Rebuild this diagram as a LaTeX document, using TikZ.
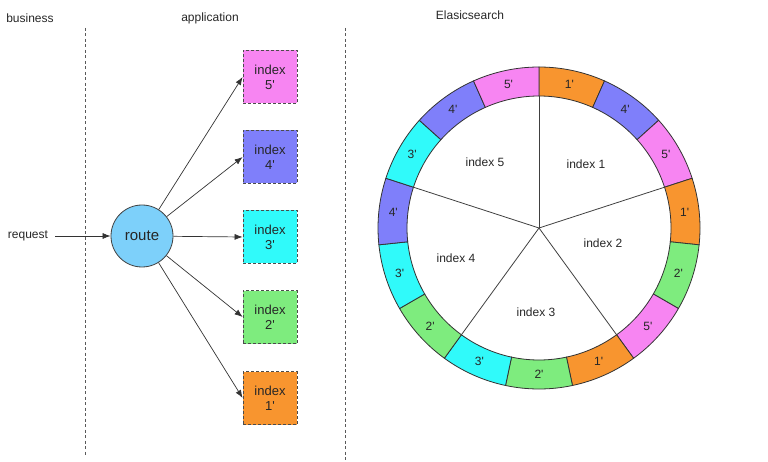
\documentclass[tikz,border=0pt]{standalone}
\usepackage{fontspec}
\setmainfont{Liberation Sans}[Ligatures=TeXOff]
\usetikzlibrary{arrows.meta,calc}
\definecolor{cpk}{HTML}{F785F2}
\definecolor{cbl}{HTML}{7F7FFA}
\definecolor{ccy}{HTML}{30FAFA}
\definecolor{cgr}{HTML}{7EEC7E}
\definecolor{cor}{HTML}{F8952F}
\definecolor{croute}{HTML}{7DD0FA}
\begin{document}
\begin{tikzpicture}[x=1pt,y=1pt,
  font=\fontsize{12}{14}\selectfont,
  title/.style={inner sep=0pt, text=black!85},
  idx/.style={draw=black!70, dashed, dash pattern=on 3pt off 2pt, line width=0.8pt,
    minimum width=54pt, minimum height=53pt, inner sep=0pt, align=center,
    font=\fontsize{13}{15}\selectfont, text=black!85},
  arr/.style={draw=black!80, line width=0.7pt, -{Latex[length=8pt,width=6pt]}},
  sep/.style={draw=black!65, dash pattern=on 3pt off 2.5pt, line width=1pt},
  seg/.style={draw=black!80, line width=0.8pt},
  spoke/.style={draw=black!75, line width=0.8pt},
  rlab/.style={inner sep=0pt, text=black!85},
  plab/.style={inner sep=0pt, text=black!85}]
\useasboundingbox (0,0) rectangle (768,-462);

% separators
\coordinate (s1t) at (85,-28);
\coordinate (s1b) at (85,-455);
\coordinate (s2t) at (345,-28);
\coordinate (s2b) at (345,-460);
\draw[sep] (s1t) -- (s1b);
\draw[sep] (s2t) -- (s2b);

% titles
\node[title] (tbus) at (30,-18) {business};
\node[title] (tapp) at (210,-18) {application};
\node[title] (tes) at (470,-15) {Elasicsearch};

% left part
\node[title] (req) at (28,-236) {request};
\node[circle, draw=black!75, line width=0.8pt, fill=croute, minimum size=62pt, inner sep=0pt,
  font=\fontsize{15}{17}\selectfont, text=black!85] (route) at (142,-236) {route};
\draw[arr] ([xshift=7pt]req.east) -- (route);

\node[idx, fill=cpk] (b5) at (270,-77) {index\\5'};
\node[idx, fill=cbl] (b4) at (270,-157) {index\\4'};
\node[idx, fill=ccy] (b3) at (270,-237) {index\\3'};
\node[idx, fill=cgr] (b2) at (270,-317) {index\\2'};
\node[idx, fill=cor] (b1) at (270,-398) {index\\1'};
\foreach \b in {b5,b4,b3,b2,b1}
  \draw[arr] (route) -- (\b.west);

% ring
\coordinate (c) at (539,-228);
\def\Ro{161}
\def\Ri{132}
\foreach \col/\lab [count=\i from 0] in {cor/1,cbl/4,cpk/5,cor/1,cgr/2,cpk/5,cor/1,cgr/2,ccy/3,cgr/2,ccy/3,cbl/4,ccy/3,cbl/4,cpk/5}{
  \pgfmathsetmacro{\sa}{90-24*\i}
  \pgfmathsetmacro{\ea}{90-24*(\i+1)}
  \pgfmathsetmacro{\ma}{90-24*\i-12}
  \draw[seg, fill=\col] ($(c)+(\sa:\Ro)$) arc[start angle=\sa, end angle=\ea, radius=\Ro]
    -- ($(c)+(\ea:\Ri)$) arc[start angle=\ea, end angle=\sa, radius=\Ri] -- cycle;
  \node[rlab] (r\i) at ($(c)+(\ma:146.5)$) {\lab'};
}
\foreach \k in {0,...,4}{
  \coordinate (p\k) at ($(c)+(90-72*\k:\Ri)$);
  \draw[spoke] (c) -- (p\k);
}
\node[plab] (i1) at (586,-164) {index 1};
\node[plab] (i2) at (603,-243) {index 2};
\node[plab] (i3) at (536,-312) {index 3};
\node[plab] (i4) at (456,-258) {index 4};
\node[plab] (i5) at (485,-162) {index 5};
\end{tikzpicture}
\end{document}
